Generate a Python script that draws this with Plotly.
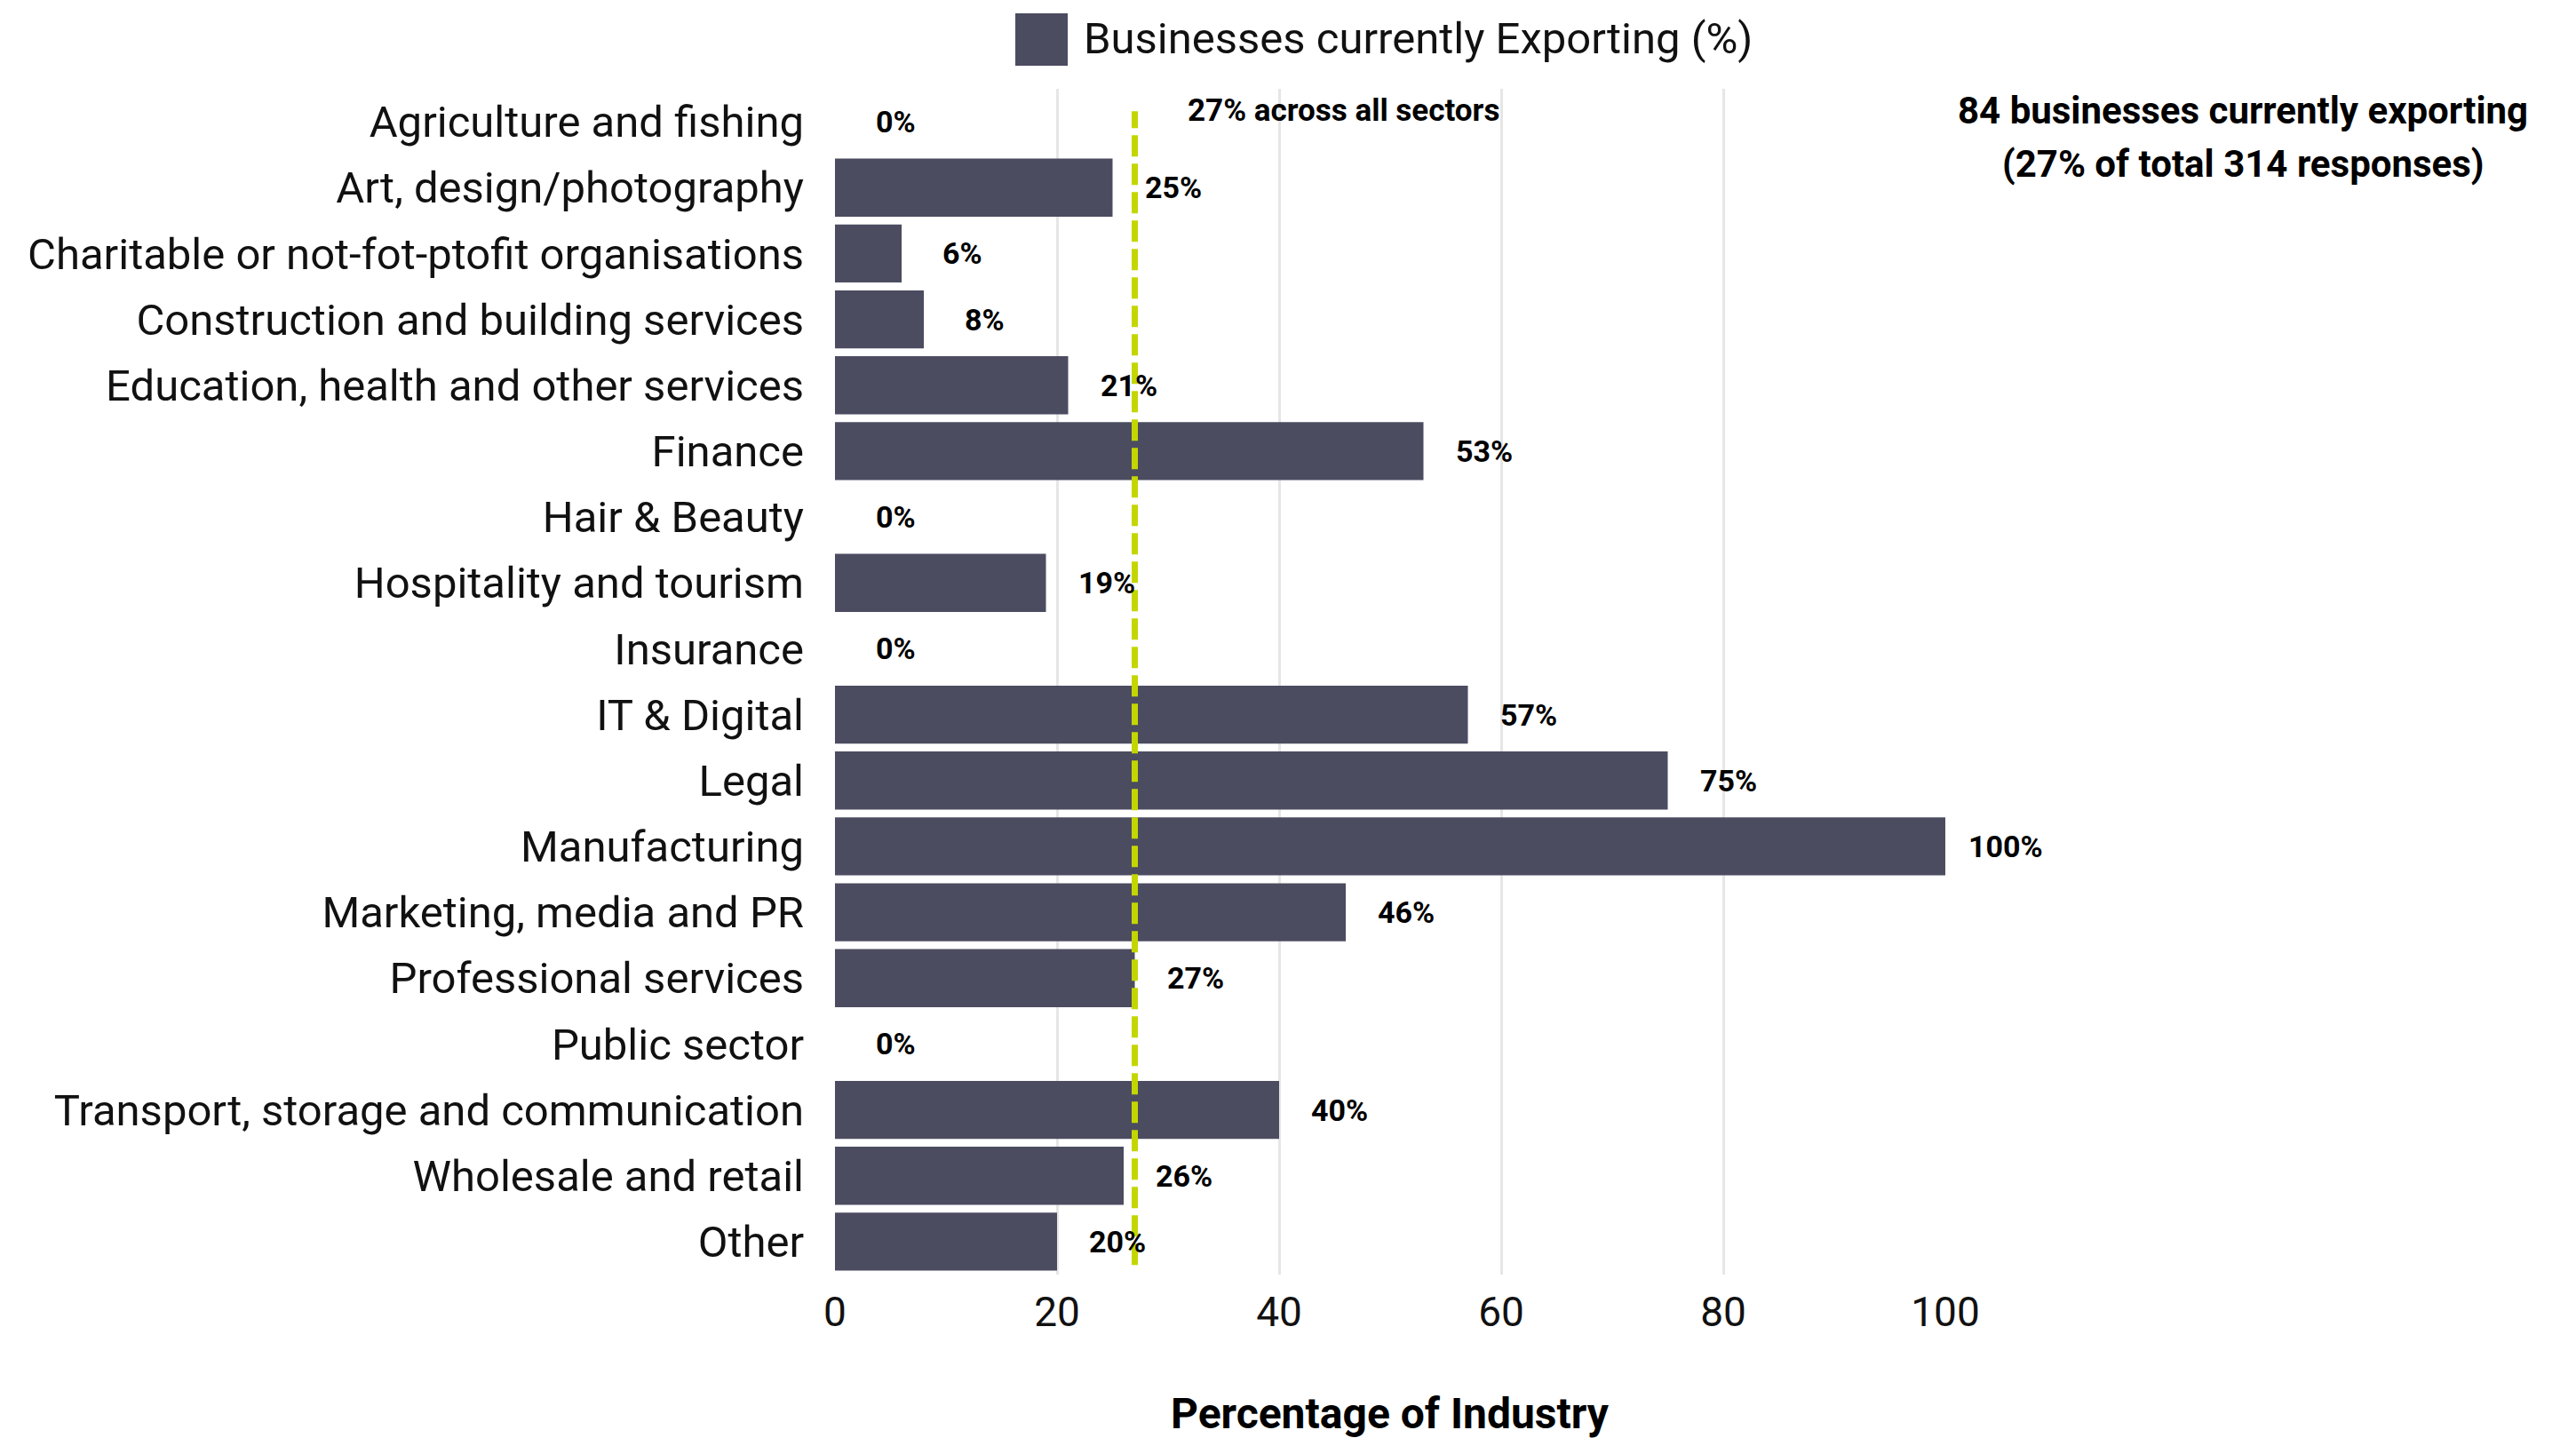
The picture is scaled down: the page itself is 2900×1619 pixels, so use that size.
import plotly.graph_objects as go

categories = [
    "Agriculture and fishing",
    "Art, design/photography",
    "Charitable or not-fot-ptofit organisations",
    "Construction and building services",
    "Education, health and other services",
    "Finance",
    "Hair & Beauty",
    "Hospitality and tourism",
    "Insurance",
    "IT & Digital",
    "Legal",
    "Manufacturing",
    "Marketing, media and PR",
    "Professional services",
    "Public sector",
    "Transport, storage and communication",
    "Wholesale and retail",
    "Other",
]
exporting_pct = [0, 25, 6, 8, 21, 53, 0, 19, 0, 57, 75, 100, 46, 27, 0, 40, 26, 20]
average_pct = 27
series_name = "Businesses currently Exporting (%)"
x_ticks = [0, 20, 40, 60, 80, 100]
note_line1 = "84 businesses currently exporting"
note_line2 = "(27% of total 314 responses)"
avg_label = "27% across all sectors"
x_title = "Percentage of Industry"

BAR_COLOR = "#4b4c60"
LINE_COLOR = "#c4d600"
FONT = "Roboto"

fig = go.Figure()
fig.add_trace(go.Bar(
    y=categories,
    x=exporting_pct,
    orientation="h",
    marker=dict(color=BAR_COLOR, line=dict(width=0)),
    name=series_name,
    showlegend=False,
    hoverinfo="x+y",
))

annotations = []
for cat, v in zip(categories, exporting_pct):
    annotations.append(dict(
        x=v, y=cat, xref="x", yref="y", text=f"<b>{v}%</b>",
        showarrow=False, xanchor="center", yanchor="middle", xshift=68,
        font=dict(family=FONT, size=34, color="#000000"),
    ))

annotations.append(dict(
    x=average_pct, y=0.982, xref="x", yref="paper", text=f"<b>{avg_label}</b>",
    showarrow=False, xanchor="left", yanchor="middle", xshift=57,
    font=dict(family=FONT, size=35, color="#000000"),
))
annotations.append(dict(
    x=1.268, y=0.982, xref="paper", yref="paper", text=f"<b>{note_line1}</b>",
    showarrow=False, xanchor="center", yanchor="middle",
    font=dict(family=FONT, size=42, color="#000000"),
))
annotations.append(dict(
    x=1.268, y=0.937, xref="paper", yref="paper", text=f"<b>{note_line2}</b>",
    showarrow=False, xanchor="center", yanchor="middle",
    font=dict(family=FONT, size=42, color="#000000"),
))
annotations.append(dict(
    x=0.5, y=-0.117, xref="paper", yref="paper", text=f"<b>{x_title}</b>",
    showarrow=False, xanchor="center", yanchor="middle",
    font=dict(family=FONT, size=48, color="#000000"),
))
# legend text
annotations.append(dict(
    x=0.2224, y=1.0, xref="paper", yref="paper", text=series_name,
    showarrow=False, xanchor="left", yanchor="middle", yshift=+57,
    font=dict(family=FONT, size=49, color="#111111"),
))

shapes = [
    dict(type="line", xref="x", yref="paper", x0=average_pct, x1=average_pct,
         y0=0.008, y1=0.981, line=dict(color=LINE_COLOR, width=7, dash="24px,8px"),
         layer="above"),
    # legend swatch
    dict(type="rect", xref="paper", yref="paper",
         x0=0.1624, x1=0.2096, y0=1.0 + 26 / 1335, y1=1.0 + 85 / 1335,
         fillcolor=BAR_COLOR, line=dict(width=0)),
]

fig.update_layout(
    width=2892, height=1611,
    margin=dict(l=932, r=710, t=92, b=184, autoexpand=False),
    paper_bgcolor="white", plot_bgcolor="white",
    bargap=0.12,
    font=dict(family=FONT, color="#111111"),
    annotations=annotations,
    shapes=shapes,
    showlegend=False,
)
fig.update_xaxes(
    range=[0, 100], tickvals=x_ticks, ticktext=[str(t) for t in x_ticks],
    showgrid=True, gridcolor="#e6e6e6", gridwidth=3, zeroline=False,
    showline=False, ticks="", tickfont=dict(family=FONT, size=46, color="#111111"),
    ticklabelstandoff=11, automargin=False,
)
fig.update_yaxes(
    categoryorder="array", categoryarray=categories, autorange="reversed",
    showgrid=False, zeroline=False, showline=False, ticks="",
    tickfont=dict(family=FONT, size=49, color="#111111"),
    ticklabelstandoff=34, automargin=False,
)

fig.write_html("out.html")
